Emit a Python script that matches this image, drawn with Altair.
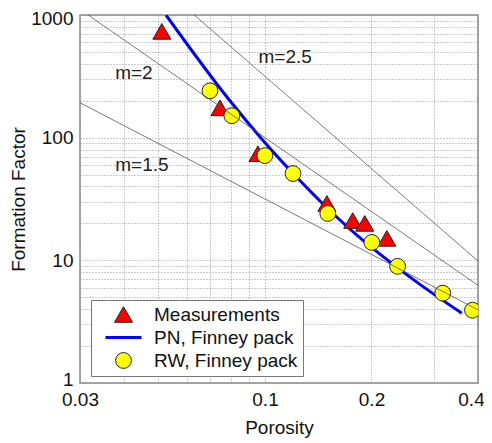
import altair as alt
import pandas as pd

# ---- data ----
meas_phi = [0.0511, 0.0746, 0.0955, 0.1496, 0.177, 0.1914, 0.221]
meas_F = [735, 175, 74, 29.1, 21.1, 20.0, 15.1]

rw_phi = [0.0699, 0.0806, 0.0999, 0.120, 0.1505, 0.2004, 0.237, 0.318, 0.386]
rw_F = [241, 151, 71.4, 51, 24.1, 14.0, 8.94, 5.4, 3.92]

pn_phi = [0.0525, 0.0796, 0.0986, 0.1255, 0.1555, 0.194, 0.2017, 0.2735, 0.360]
pn_F = [1000, 200, 95.4, 44.7, 24.1, 13.7, 12.5, 6.4, 3.71]

# Archie lines F = phi^-m, endpoints at the axis limits
archie_m = ["m=1.5", "m=2", "m=2.5"]
archie_phi = [0.03, 0.4]
archie_F = {"m=1.5": [192.5, 3.95], "m=2": [1111, 6.25], "m=2.5": [6415, 9.88]}

label_text = ["m=2.5", "m=2", "m=1.5"]
label_phi = [0.114, 0.0426, 0.0449]
label_F = [456, 338, 60]

x_ticks = [0.03, 0.04, 0.05, 0.06, 0.07, 0.08, 0.09, 0.1, 0.2, 0.3, 0.4]
x_labels = [0.03, 0.1, 0.2, 0.4]
y_ticks = [1, 2, 3, 4, 5, 6, 7, 8, 9, 10, 20, 30, 40, 50, 60, 70, 80, 90,
           100, 200, 300, 400, 500, 600, 700, 800, 900, 1000]
y_labels = [1, 10, 100, 1000]

series = ["Measurements", "PN, Finney pack", "RW, Finney pack"]

# ---- tables ----
pts = pd.DataFrame(
    {"phi": meas_phi + rw_phi,
     "F": meas_F + rw_F,
     "series": [series[0]] * len(meas_phi) + [series[2]] * len(rw_phi)}
)
pn = pd.DataFrame({"phi": pn_phi, "F": pn_F})
arch = pd.DataFrame(
    [{"m": m, "phi": p, "F": f} for m in archie_m for p, f in zip(archie_phi, archie_F[m])]
)
labs = pd.DataFrame({"t": label_text, "phi": label_phi, "F": label_F})

FONT = "Liberation Sans"

xlab_expr = "indexof(" + str(x_labels) + ", datum.value) >= 0 ? '' + datum.value : ''"
ylab_expr = "indexof(" + str(y_labels) + ", datum.value) >= 0 ? '' + datum.value : ''"

xs = alt.Scale(type="log", domain=[0.03, 0.4], nice=False)
ys = alt.Scale(type="log", domain=[1, 1000], nice=False)

X = alt.X("phi:Q", scale=xs,
          axis=alt.Axis(title="Porosity", values=x_ticks, labelExpr=xlab_expr,
                        grid=True, tickSize=0, labelPadding=7, titlePadding=9,
                        labelOverlap=False, labelFlush=False,
                        labelOffset={"condition": {"test": "datum.value == 0.4", "value": -7},
                                     "value": 0}))
Y = alt.Y("F:Q", scale=ys,
          axis=alt.Axis(title="Formation Factor", values=y_ticks, labelExpr=ylab_expr,
                        grid=True, tickSize=0, labelPadding=7, titlePadding=2,
                        labelOverlap=False,
                        labelOffset={"condition": [
                            {"test": "datum.value == 1000", "value": 3},
                            {"test": "datum.value == 1", "value": -4}],
                            "value": 0}))

pn_line = alt.Chart(pn).mark_line(color="#0000ff", strokeWidth=3, clip=True,
                                  interpolate="monotone").encode(x=X, y=Y)

points = alt.Chart(pts).mark_point(filled=True, opacity=1, clip=True).encode(
    x=X, y=Y,
    shape=alt.Shape("series:N", scale=alt.Scale(domain=series,
                    range=["triangle-up", "M-2,0L2,0", "circle"]),
                    legend=alt.Legend(title=None)),
    fill=alt.Fill("series:N", scale=alt.Scale(domain=series,
                  range=["#ff0000", "#0000ff", "#ffff00"]), legend=alt.Legend(title=None)),
    stroke=alt.Stroke("series:N", scale=alt.Scale(domain=series,
                      range=["#222222", "#0000ff", "#222222"]), legend=alt.Legend(title=None)),
    size=alt.Size("series:N", scale=alt.Scale(type="ordinal", domain=series,
                  range=[324, 324, 250]), legend=alt.Legend(title=None)),
    strokeWidth=alt.StrokeWidth("series:N", scale=alt.Scale(type="ordinal", domain=series,
                  range=[1, 3, 1]), legend=alt.Legend(title=None)),
)

arch_lines = alt.Chart(arch).mark_line(color="#555555", strokeWidth=0.8, clip=True).encode(
    x=X, y=Y, detail="m:N")

texts = alt.Chart(labs).mark_text(font=FONT, fontSize=19, color="#222222").encode(
    x=X, y=Y, text="t:N")

chart = alt.layer(pn_line, points, arch_lines, texts).properties(
    width=398, height=368,
    autosize=alt.AutoSizeParams(type="none"),
    padding={"left": 72, "top": 7, "right": 6, "bottom": 60},
).configure_view(
    stroke="#888888", strokeWidth=1.5
).configure_axis(
    labelFont=FONT, titleFont=FONT, labelFontSize=19, titleFontSize=19,
    labelColor="#111111", titleColor="#111111", titleFontWeight="normal",
    gridColor="#999999", gridDash=[1, 2], gridOpacity=1, gridWidth=1,
    domain=False,
).configure_legend(
    orient="none", legendX=11, legendY=285,
    fillColor="white", strokeColor="#777777", padding=5,
    labelFont=FONT, labelFontSize=19, labelColor="#111111",
    symbolOffset=17, labelOffset=20, rowPadding=2,
    symbolOpacity=1,
)

chart.save("out.html", embed_options={"renderer": "svg", "actions": False})
